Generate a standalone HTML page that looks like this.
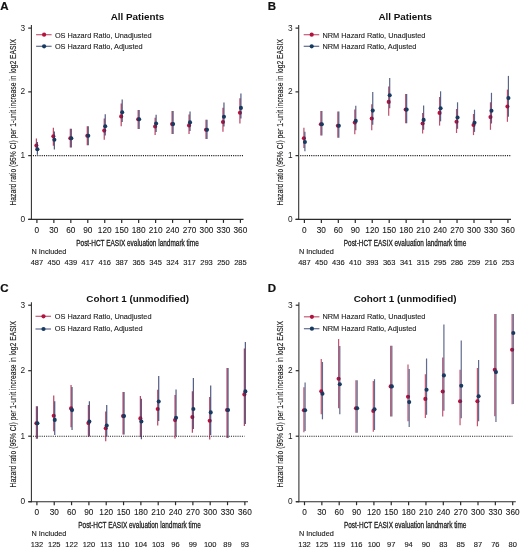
<!DOCTYPE html>
<html><head><meta charset="utf-8"><style>
html,body{margin:0;padding:0;background:#fff;width:520px;height:549px;overflow:hidden}
svg{display:block;filter:blur(0.35px)}
text{font-family:"Liberation Sans", sans-serif}
</style></head><body>
<svg width="520" height="549" viewBox="0 0 520 549">
<rect width="520" height="549" fill="#fff"/>
<text x="0.3" y="10" font-size="11.5" font-weight="bold" fill="#111" stroke="#111" stroke-width="0.2">A</text>
<text x="137.5" y="20.2" font-size="9.85" font-weight="bold" fill="#111" text-anchor="middle">All Patients</text>
<line x1="31.4" y1="25" x2="31.4" y2="219.9" stroke="#2b2b2b" stroke-width="1.05"/>
<line x1="28.4" y1="219.4" x2="243.5" y2="219.4" stroke="#2b2b2b" stroke-width="1.1"/>
<line x1="28.2" y1="219.4" x2="31.4" y2="219.4" stroke="#2b2b2b" stroke-width="1.2"/>
<text x="25.2" y="221.9" font-size="8.3" fill="#1a1a1a" text-anchor="end">0</text>
<line x1="28.2" y1="155.63" x2="31.4" y2="155.63" stroke="#2b2b2b" stroke-width="1.2"/>
<text x="25.2" y="158.13" font-size="8.3" fill="#1a1a1a" text-anchor="end">1</text>
<line x1="28.2" y1="91.87" x2="31.4" y2="91.87" stroke="#2b2b2b" stroke-width="1.2"/>
<text x="25.2" y="94.37" font-size="8.3" fill="#1a1a1a" text-anchor="end">2</text>
<line x1="28.2" y1="28.1" x2="31.4" y2="28.1" stroke="#2b2b2b" stroke-width="1.2"/>
<text x="25.2" y="30.6" font-size="8.3" fill="#1a1a1a" text-anchor="end">3</text>
<line x1="32.9" y1="155.63" x2="243.92" y2="155.63" stroke="#222" stroke-width="1.1" stroke-dasharray="1.1 1.1"/>
<line x1="36.9" y1="219.4" x2="36.9" y2="222.9" stroke="#2b2b2b" stroke-width="1.2"/>
<text x="36.9" y="232.7" font-size="8.25" fill="#1a1a1a" stroke="#1a1a1a" stroke-width="0.1" text-anchor="middle">0</text>
<text x="36.9" y="264.8" font-size="7.5" fill="#1a1a1a" stroke="#1a1a1a" stroke-width="0.12" text-anchor="middle">487</text>
<line x1="53.86" y1="219.4" x2="53.86" y2="222.9" stroke="#2b2b2b" stroke-width="1.2"/>
<text x="53.86" y="232.7" font-size="8.25" fill="#1a1a1a" stroke="#1a1a1a" stroke-width="0.1" text-anchor="middle">30</text>
<text x="53.86" y="264.8" font-size="7.5" fill="#1a1a1a" stroke="#1a1a1a" stroke-width="0.12" text-anchor="middle">450</text>
<line x1="70.82" y1="219.4" x2="70.82" y2="222.9" stroke="#2b2b2b" stroke-width="1.2"/>
<text x="70.82" y="232.7" font-size="8.25" fill="#1a1a1a" stroke="#1a1a1a" stroke-width="0.1" text-anchor="middle">60</text>
<text x="70.82" y="264.8" font-size="7.5" fill="#1a1a1a" stroke="#1a1a1a" stroke-width="0.12" text-anchor="middle">439</text>
<line x1="87.78" y1="219.4" x2="87.78" y2="222.9" stroke="#2b2b2b" stroke-width="1.2"/>
<text x="87.78" y="232.7" font-size="8.25" fill="#1a1a1a" stroke="#1a1a1a" stroke-width="0.1" text-anchor="middle">90</text>
<text x="87.78" y="264.8" font-size="7.5" fill="#1a1a1a" stroke="#1a1a1a" stroke-width="0.12" text-anchor="middle">417</text>
<line x1="104.74" y1="219.4" x2="104.74" y2="222.9" stroke="#2b2b2b" stroke-width="1.2"/>
<text x="104.74" y="232.7" font-size="8.25" fill="#1a1a1a" stroke="#1a1a1a" stroke-width="0.1" text-anchor="middle">120</text>
<text x="104.74" y="264.8" font-size="7.5" fill="#1a1a1a" stroke="#1a1a1a" stroke-width="0.12" text-anchor="middle">416</text>
<line x1="121.7" y1="219.4" x2="121.7" y2="222.9" stroke="#2b2b2b" stroke-width="1.2"/>
<text x="121.7" y="232.7" font-size="8.25" fill="#1a1a1a" stroke="#1a1a1a" stroke-width="0.1" text-anchor="middle">150</text>
<text x="121.7" y="264.8" font-size="7.5" fill="#1a1a1a" stroke="#1a1a1a" stroke-width="0.12" text-anchor="middle">387</text>
<line x1="138.66" y1="219.4" x2="138.66" y2="222.9" stroke="#2b2b2b" stroke-width="1.2"/>
<text x="138.66" y="232.7" font-size="8.25" fill="#1a1a1a" stroke="#1a1a1a" stroke-width="0.1" text-anchor="middle">180</text>
<text x="138.66" y="264.8" font-size="7.5" fill="#1a1a1a" stroke="#1a1a1a" stroke-width="0.12" text-anchor="middle">365</text>
<line x1="155.62" y1="219.4" x2="155.62" y2="222.9" stroke="#2b2b2b" stroke-width="1.2"/>
<text x="155.62" y="232.7" font-size="8.25" fill="#1a1a1a" stroke="#1a1a1a" stroke-width="0.1" text-anchor="middle">210</text>
<text x="155.62" y="264.8" font-size="7.5" fill="#1a1a1a" stroke="#1a1a1a" stroke-width="0.12" text-anchor="middle">345</text>
<line x1="172.58" y1="219.4" x2="172.58" y2="222.9" stroke="#2b2b2b" stroke-width="1.2"/>
<text x="172.58" y="232.7" font-size="8.25" fill="#1a1a1a" stroke="#1a1a1a" stroke-width="0.1" text-anchor="middle">240</text>
<text x="172.58" y="264.8" font-size="7.5" fill="#1a1a1a" stroke="#1a1a1a" stroke-width="0.12" text-anchor="middle">324</text>
<line x1="189.54" y1="219.4" x2="189.54" y2="222.9" stroke="#2b2b2b" stroke-width="1.2"/>
<text x="189.54" y="232.7" font-size="8.25" fill="#1a1a1a" stroke="#1a1a1a" stroke-width="0.1" text-anchor="middle">270</text>
<text x="189.54" y="264.8" font-size="7.5" fill="#1a1a1a" stroke="#1a1a1a" stroke-width="0.12" text-anchor="middle">317</text>
<line x1="206.5" y1="219.4" x2="206.5" y2="222.9" stroke="#2b2b2b" stroke-width="1.2"/>
<text x="206.5" y="232.7" font-size="8.25" fill="#1a1a1a" stroke="#1a1a1a" stroke-width="0.1" text-anchor="middle">300</text>
<text x="206.5" y="264.8" font-size="7.5" fill="#1a1a1a" stroke="#1a1a1a" stroke-width="0.12" text-anchor="middle">293</text>
<line x1="223.46" y1="219.4" x2="223.46" y2="222.9" stroke="#2b2b2b" stroke-width="1.2"/>
<text x="223.46" y="232.7" font-size="8.25" fill="#1a1a1a" stroke="#1a1a1a" stroke-width="0.1" text-anchor="middle">330</text>
<text x="223.46" y="264.8" font-size="7.5" fill="#1a1a1a" stroke="#1a1a1a" stroke-width="0.12" text-anchor="middle">250</text>
<line x1="240.42" y1="219.4" x2="240.42" y2="222.9" stroke="#2b2b2b" stroke-width="1.2"/>
<text x="240.42" y="232.7" font-size="8.25" fill="#1a1a1a" stroke="#1a1a1a" stroke-width="0.1" text-anchor="middle">360</text>
<text x="240.42" y="264.8" font-size="7.5" fill="#1a1a1a" stroke="#1a1a1a" stroke-width="0.12" text-anchor="middle">285</text>
<text x="137.5" y="246" font-size="9.3" fill="#1a1a1a" text-anchor="middle" textLength="122.5" lengthAdjust="spacingAndGlyphs" stroke="#1a1a1a" stroke-width="0.3">Post-HCT EASIX evaluation landmark time</text>
<text x="31.5" y="254.1" font-size="7.3" fill="#1a1a1a" stroke="#1a1a1a" stroke-width="0.12">N Included</text>
<text transform="translate(15.5,122.25) rotate(-90)" x="0" y="0" font-size="9.7" fill="#1a1a1a" text-anchor="middle" textLength="166.5" lengthAdjust="spacingAndGlyphs" stroke="#1a1a1a" stroke-width="0.15">Hazard ratio (95% CI) per 1-unit increase in log2 EASIX</text>
<line x1="36.1" y1="34.7" x2="51.6" y2="34.7" stroke="rgba(170,20,60,0.7)" stroke-width="1.2"/>
<circle cx="44.1" cy="34.7" r="2.1" fill="#b4123e"/>
<text x="54.9" y="37.5" font-size="7.35" fill="#1a1a1a" stroke="#1a1a1a" stroke-width="0.1">OS Hazard Ratio, Unadjusted</text>
<line x1="36.1" y1="46.3" x2="51.6" y2="46.3" stroke="rgba(35,50,100,0.72)" stroke-width="1.2"/>
<circle cx="44.1" cy="46.3" r="2.1" fill="#163a60"/>
<text x="54.9" y="49.1" font-size="7.35" fill="#1a1a1a" stroke="#1a1a1a" stroke-width="0.1">OS Hazard Ratio, Adjusted</text>
<line x1="36.4" y1="138.4" x2="36.4" y2="151.1" stroke="rgba(170,20,60,0.8)" stroke-width="1.2"/><circle cx="36.4" cy="145.6" r="2.05" fill="#b4123e"/>
<line x1="53.36" y1="127.8" x2="53.36" y2="145.8" stroke="rgba(170,20,60,0.8)" stroke-width="1.2"/><circle cx="53.36" cy="136.2" r="2.05" fill="#b4123e"/>
<line x1="70.32" y1="128.8" x2="70.32" y2="147.5" stroke="rgba(170,20,60,0.8)" stroke-width="1.2"/><circle cx="70.32" cy="138.2" r="2.05" fill="#b4123e"/>
<line x1="87.28" y1="126.3" x2="87.28" y2="145.2" stroke="rgba(170,20,60,0.8)" stroke-width="1.2"/><circle cx="87.28" cy="135.8" r="2.05" fill="#b4123e"/>
<line x1="104.24" y1="118.5" x2="104.24" y2="139.8" stroke="rgba(170,20,60,0.8)" stroke-width="1.2"/><circle cx="104.24" cy="130.6" r="2.05" fill="#b4123e"/>
<line x1="121.2" y1="103.6" x2="121.2" y2="126.3" stroke="rgba(170,20,60,0.8)" stroke-width="1.2"/><circle cx="121.2" cy="116.4" r="2.05" fill="#b4123e"/>
<line x1="138.16" y1="109.9" x2="138.16" y2="129" stroke="rgba(170,20,60,0.8)" stroke-width="1.2"/><circle cx="138.16" cy="119.3" r="2.05" fill="#b4123e"/>
<line x1="155.12" y1="117.8" x2="155.12" y2="134.9" stroke="rgba(170,20,60,0.8)" stroke-width="1.2"/><circle cx="155.12" cy="126.5" r="2.05" fill="#b4123e"/>
<line x1="172.08" y1="111.1" x2="172.08" y2="134.1" stroke="rgba(170,20,60,0.8)" stroke-width="1.2"/><circle cx="172.08" cy="124.1" r="2.05" fill="#b4123e"/>
<line x1="189.04" y1="114.6" x2="189.04" y2="134.1" stroke="rgba(170,20,60,0.8)" stroke-width="1.2"/><circle cx="189.04" cy="125.4" r="2.05" fill="#b4123e"/>
<line x1="206" y1="119.8" x2="206" y2="139" stroke="rgba(170,20,60,0.8)" stroke-width="1.2"/><circle cx="206" cy="129.7" r="2.05" fill="#b4123e"/>
<line x1="222.96" y1="107.8" x2="222.96" y2="131.7" stroke="rgba(170,20,60,0.8)" stroke-width="1.2"/><circle cx="222.96" cy="122" r="2.05" fill="#b4123e"/>
<line x1="239.92" y1="98.3" x2="239.92" y2="123.4" stroke="rgba(170,20,60,0.8)" stroke-width="1.2"/><circle cx="239.92" cy="112.7" r="2.05" fill="#b4123e"/>
<line x1="37.4" y1="142" x2="37.4" y2="154.7" stroke="rgba(35,50,100,0.8)" stroke-width="1.2"/><circle cx="37.4" cy="149.2" r="2.05" fill="#163a60"/>
<line x1="54.36" y1="131.4" x2="54.36" y2="149.4" stroke="rgba(35,50,100,0.8)" stroke-width="1.2"/><circle cx="54.36" cy="139.8" r="2.05" fill="#163a60"/>
<line x1="71.32" y1="128.8" x2="71.32" y2="147.5" stroke="rgba(35,50,100,0.8)" stroke-width="1.2"/><circle cx="71.32" cy="138.2" r="2.05" fill="#163a60"/>
<line x1="88.28" y1="126.3" x2="88.28" y2="145.2" stroke="rgba(35,50,100,0.8)" stroke-width="1.2"/><circle cx="88.28" cy="135.8" r="2.05" fill="#163a60"/>
<line x1="105.24" y1="114.2" x2="105.24" y2="135.5" stroke="rgba(35,50,100,0.8)" stroke-width="1.2"/><circle cx="105.24" cy="126.3" r="2.05" fill="#163a60"/>
<line x1="122.2" y1="99.4" x2="122.2" y2="122.1" stroke="rgba(35,50,100,0.8)" stroke-width="1.2"/><circle cx="122.2" cy="112.2" r="2.05" fill="#163a60"/>
<line x1="139.16" y1="109.9" x2="139.16" y2="129" stroke="rgba(35,50,100,0.8)" stroke-width="1.2"/><circle cx="139.16" cy="119.3" r="2.05" fill="#163a60"/>
<line x1="156.12" y1="114.8" x2="156.12" y2="131.9" stroke="rgba(35,50,100,0.8)" stroke-width="1.2"/><circle cx="156.12" cy="123.5" r="2.05" fill="#163a60"/>
<line x1="173.08" y1="111.1" x2="173.08" y2="134.1" stroke="rgba(35,50,100,0.8)" stroke-width="1.2"/><circle cx="173.08" cy="124.1" r="2.05" fill="#163a60"/>
<line x1="190.04" y1="111.6" x2="190.04" y2="131.1" stroke="rgba(35,50,100,0.8)" stroke-width="1.2"/><circle cx="190.04" cy="122.4" r="2.05" fill="#163a60"/>
<line x1="207" y1="119.8" x2="207" y2="139" stroke="rgba(35,50,100,0.8)" stroke-width="1.2"/><circle cx="207" cy="129.7" r="2.05" fill="#163a60"/>
<line x1="223.96" y1="102.6" x2="223.96" y2="126.5" stroke="rgba(35,50,100,0.8)" stroke-width="1.2"/><circle cx="223.96" cy="116.8" r="2.05" fill="#163a60"/>
<line x1="240.92" y1="93.5" x2="240.92" y2="118.6" stroke="rgba(35,50,100,0.8)" stroke-width="1.2"/><circle cx="240.92" cy="107.9" r="2.05" fill="#163a60"/>
<text x="267.7" y="10" font-size="11.5" font-weight="bold" fill="#111" stroke="#111" stroke-width="0.2">B</text>
<text x="405.3" y="20.2" font-size="9.85" font-weight="bold" fill="#111" text-anchor="middle">All Patients</text>
<line x1="298.7" y1="25" x2="298.7" y2="219.9" stroke="#2b2b2b" stroke-width="1.05"/>
<line x1="295.7" y1="219.4" x2="511" y2="219.4" stroke="#2b2b2b" stroke-width="1.1"/>
<line x1="295.5" y1="219.4" x2="298.7" y2="219.4" stroke="#2b2b2b" stroke-width="1.2"/>
<text x="292.5" y="221.9" font-size="8.3" fill="#1a1a1a" text-anchor="end">0</text>
<line x1="295.5" y1="155.63" x2="298.7" y2="155.63" stroke="#2b2b2b" stroke-width="1.2"/>
<text x="292.5" y="158.13" font-size="8.3" fill="#1a1a1a" text-anchor="end">1</text>
<line x1="295.5" y1="91.87" x2="298.7" y2="91.87" stroke="#2b2b2b" stroke-width="1.2"/>
<text x="292.5" y="94.37" font-size="8.3" fill="#1a1a1a" text-anchor="end">2</text>
<line x1="295.5" y1="28.1" x2="298.7" y2="28.1" stroke="#2b2b2b" stroke-width="1.2"/>
<text x="292.5" y="30.6" font-size="8.3" fill="#1a1a1a" text-anchor="end">3</text>
<line x1="300.2" y1="155.63" x2="511.42" y2="155.63" stroke="#222" stroke-width="1.1" stroke-dasharray="1.1 1.1"/>
<line x1="304.4" y1="219.4" x2="304.4" y2="222.9" stroke="#2b2b2b" stroke-width="1.2"/>
<text x="304.4" y="232.7" font-size="8.25" fill="#1a1a1a" stroke="#1a1a1a" stroke-width="0.1" text-anchor="middle">0</text>
<text x="304.4" y="264.8" font-size="7.5" fill="#1a1a1a" stroke="#1a1a1a" stroke-width="0.12" text-anchor="middle">487</text>
<line x1="321.36" y1="219.4" x2="321.36" y2="222.9" stroke="#2b2b2b" stroke-width="1.2"/>
<text x="321.36" y="232.7" font-size="8.25" fill="#1a1a1a" stroke="#1a1a1a" stroke-width="0.1" text-anchor="middle">30</text>
<text x="321.36" y="264.8" font-size="7.5" fill="#1a1a1a" stroke="#1a1a1a" stroke-width="0.12" text-anchor="middle">450</text>
<line x1="338.32" y1="219.4" x2="338.32" y2="222.9" stroke="#2b2b2b" stroke-width="1.2"/>
<text x="338.32" y="232.7" font-size="8.25" fill="#1a1a1a" stroke="#1a1a1a" stroke-width="0.1" text-anchor="middle">60</text>
<text x="338.32" y="264.8" font-size="7.5" fill="#1a1a1a" stroke="#1a1a1a" stroke-width="0.12" text-anchor="middle">436</text>
<line x1="355.28" y1="219.4" x2="355.28" y2="222.9" stroke="#2b2b2b" stroke-width="1.2"/>
<text x="355.28" y="232.7" font-size="8.25" fill="#1a1a1a" stroke="#1a1a1a" stroke-width="0.1" text-anchor="middle">90</text>
<text x="355.28" y="264.8" font-size="7.5" fill="#1a1a1a" stroke="#1a1a1a" stroke-width="0.12" text-anchor="middle">410</text>
<line x1="372.24" y1="219.4" x2="372.24" y2="222.9" stroke="#2b2b2b" stroke-width="1.2"/>
<text x="372.24" y="232.7" font-size="8.25" fill="#1a1a1a" stroke="#1a1a1a" stroke-width="0.1" text-anchor="middle">120</text>
<text x="372.24" y="264.8" font-size="7.5" fill="#1a1a1a" stroke="#1a1a1a" stroke-width="0.12" text-anchor="middle">393</text>
<line x1="389.2" y1="219.4" x2="389.2" y2="222.9" stroke="#2b2b2b" stroke-width="1.2"/>
<text x="389.2" y="232.7" font-size="8.25" fill="#1a1a1a" stroke="#1a1a1a" stroke-width="0.1" text-anchor="middle">150</text>
<text x="389.2" y="264.8" font-size="7.5" fill="#1a1a1a" stroke="#1a1a1a" stroke-width="0.12" text-anchor="middle">363</text>
<line x1="406.16" y1="219.4" x2="406.16" y2="222.9" stroke="#2b2b2b" stroke-width="1.2"/>
<text x="406.16" y="232.7" font-size="8.25" fill="#1a1a1a" stroke="#1a1a1a" stroke-width="0.1" text-anchor="middle">180</text>
<text x="406.16" y="264.8" font-size="7.5" fill="#1a1a1a" stroke="#1a1a1a" stroke-width="0.12" text-anchor="middle">341</text>
<line x1="423.12" y1="219.4" x2="423.12" y2="222.9" stroke="#2b2b2b" stroke-width="1.2"/>
<text x="423.12" y="232.7" font-size="8.25" fill="#1a1a1a" stroke="#1a1a1a" stroke-width="0.1" text-anchor="middle">210</text>
<text x="423.12" y="264.8" font-size="7.5" fill="#1a1a1a" stroke="#1a1a1a" stroke-width="0.12" text-anchor="middle">315</text>
<line x1="440.08" y1="219.4" x2="440.08" y2="222.9" stroke="#2b2b2b" stroke-width="1.2"/>
<text x="440.08" y="232.7" font-size="8.25" fill="#1a1a1a" stroke="#1a1a1a" stroke-width="0.1" text-anchor="middle">240</text>
<text x="440.08" y="264.8" font-size="7.5" fill="#1a1a1a" stroke="#1a1a1a" stroke-width="0.12" text-anchor="middle">295</text>
<line x1="457.04" y1="219.4" x2="457.04" y2="222.9" stroke="#2b2b2b" stroke-width="1.2"/>
<text x="457.04" y="232.7" font-size="8.25" fill="#1a1a1a" stroke="#1a1a1a" stroke-width="0.1" text-anchor="middle">270</text>
<text x="457.04" y="264.8" font-size="7.5" fill="#1a1a1a" stroke="#1a1a1a" stroke-width="0.12" text-anchor="middle">286</text>
<line x1="474" y1="219.4" x2="474" y2="222.9" stroke="#2b2b2b" stroke-width="1.2"/>
<text x="474" y="232.7" font-size="8.25" fill="#1a1a1a" stroke="#1a1a1a" stroke-width="0.1" text-anchor="middle">300</text>
<text x="474" y="264.8" font-size="7.5" fill="#1a1a1a" stroke="#1a1a1a" stroke-width="0.12" text-anchor="middle">259</text>
<line x1="490.96" y1="219.4" x2="490.96" y2="222.9" stroke="#2b2b2b" stroke-width="1.2"/>
<text x="490.96" y="232.7" font-size="8.25" fill="#1a1a1a" stroke="#1a1a1a" stroke-width="0.1" text-anchor="middle">330</text>
<text x="490.96" y="264.8" font-size="7.5" fill="#1a1a1a" stroke="#1a1a1a" stroke-width="0.12" text-anchor="middle">216</text>
<line x1="507.92" y1="219.4" x2="507.92" y2="222.9" stroke="#2b2b2b" stroke-width="1.2"/>
<text x="507.92" y="232.7" font-size="8.25" fill="#1a1a1a" stroke="#1a1a1a" stroke-width="0.1" text-anchor="middle">360</text>
<text x="507.92" y="264.8" font-size="7.5" fill="#1a1a1a" stroke="#1a1a1a" stroke-width="0.12" text-anchor="middle">253</text>
<text x="405" y="246" font-size="9.3" fill="#1a1a1a" text-anchor="middle" textLength="122.5" lengthAdjust="spacingAndGlyphs" stroke="#1a1a1a" stroke-width="0.3">Post-HCT EASIX evaluation landmark time</text>
<text x="298.9" y="254.1" font-size="7.3" fill="#1a1a1a" stroke="#1a1a1a" stroke-width="0.12">N Included</text>
<text transform="translate(282.9,122.25) rotate(-90)" x="0" y="0" font-size="9.7" fill="#1a1a1a" text-anchor="middle" textLength="166.5" lengthAdjust="spacingAndGlyphs" stroke="#1a1a1a" stroke-width="0.15">Hazard ratio (95% CI) per 1-unit increase in log2 EASIX</text>
<line x1="303.7" y1="34.7" x2="319.2" y2="34.7" stroke="rgba(170,20,60,0.7)" stroke-width="1.2"/>
<circle cx="311.7" cy="34.7" r="2.1" fill="#b4123e"/>
<text x="322.5" y="37.5" font-size="7.35" fill="#1a1a1a" stroke="#1a1a1a" stroke-width="0.1">NRM Hazard Ratio, Unadjusted</text>
<line x1="303.7" y1="46.3" x2="319.2" y2="46.3" stroke="rgba(35,50,100,0.72)" stroke-width="1.2"/>
<circle cx="311.7" cy="46.3" r="2.1" fill="#163a60"/>
<text x="322.5" y="49.1" font-size="7.35" fill="#1a1a1a" stroke="#1a1a1a" stroke-width="0.1">NRM Hazard Ratio, Adjusted</text>
<line x1="303.9" y1="127.8" x2="303.9" y2="148" stroke="rgba(170,20,60,0.75)" stroke-width="1.2"/><circle cx="303.9" cy="138.2" r="2.05" fill="#b4123e"/>
<line x1="320.86" y1="110.9" x2="320.86" y2="135.5" stroke="rgba(170,20,60,0.75)" stroke-width="1.2"/><circle cx="320.86" cy="124.2" r="2.05" fill="#b4123e"/>
<line x1="337.82" y1="111.5" x2="337.82" y2="137.7" stroke="rgba(170,20,60,0.75)" stroke-width="1.2"/><circle cx="337.82" cy="125.7" r="2.05" fill="#b4123e"/>
<line x1="354.78" y1="109.6" x2="354.78" y2="134.3" stroke="rgba(170,20,60,0.75)" stroke-width="1.2"/><circle cx="354.78" cy="122.6" r="2.05" fill="#b4123e"/>
<line x1="371.74" y1="104.2" x2="371.74" y2="130.2" stroke="rgba(170,20,60,0.75)" stroke-width="1.2"/><circle cx="371.74" cy="118.5" r="2.05" fill="#b4123e"/>
<line x1="388.7" y1="86.4" x2="388.7" y2="115.8" stroke="rgba(170,20,60,0.75)" stroke-width="1.2"/><circle cx="388.7" cy="101.9" r="2.05" fill="#b4123e"/>
<line x1="405.66" y1="93.9" x2="405.66" y2="123.3" stroke="rgba(170,20,60,0.75)" stroke-width="1.2"/><circle cx="405.66" cy="109.6" r="2.05" fill="#b4123e"/>
<line x1="422.62" y1="112.9" x2="422.62" y2="133.6" stroke="rgba(170,20,60,0.75)" stroke-width="1.2"/><circle cx="422.62" cy="123.5" r="2.05" fill="#b4123e"/>
<line x1="439.58" y1="97" x2="439.58" y2="125.6" stroke="rgba(170,20,60,0.75)" stroke-width="1.2"/><circle cx="439.58" cy="112.9" r="2.05" fill="#b4123e"/>
<line x1="456.54" y1="109" x2="456.54" y2="133" stroke="rgba(170,20,60,0.75)" stroke-width="1.2"/><circle cx="456.54" cy="121.8" r="2.05" fill="#b4123e"/>
<line x1="473.5" y1="114" x2="473.5" y2="135.1" stroke="rgba(170,20,60,0.75)" stroke-width="1.2"/><circle cx="473.5" cy="125" r="2.05" fill="#b4123e"/>
<line x1="490.46" y1="102.3" x2="490.46" y2="129.8" stroke="rgba(170,20,60,0.75)" stroke-width="1.2"/><circle cx="490.46" cy="117.1" r="2.05" fill="#b4123e"/>
<line x1="507.42" y1="89.6" x2="507.42" y2="121.8" stroke="rgba(170,20,60,0.75)" stroke-width="1.2"/><circle cx="507.42" cy="106.5" r="2.05" fill="#b4123e"/>
<line x1="304.9" y1="131.7" x2="304.9" y2="151.3" stroke="rgba(35,50,100,0.75)" stroke-width="1.2"/><circle cx="304.9" cy="142" r="2.05" fill="#163a60"/>
<line x1="321.86" y1="110.9" x2="321.86" y2="135.5" stroke="rgba(35,50,100,0.75)" stroke-width="1.2"/><circle cx="321.86" cy="124.2" r="2.05" fill="#163a60"/>
<line x1="338.82" y1="111.5" x2="338.82" y2="137.7" stroke="rgba(35,50,100,0.75)" stroke-width="1.2"/><circle cx="338.82" cy="125.7" r="2.05" fill="#163a60"/>
<line x1="355.78" y1="105.8" x2="355.78" y2="130.2" stroke="rgba(35,50,100,0.75)" stroke-width="1.2"/><circle cx="355.78" cy="120.9" r="2.05" fill="#163a60"/>
<line x1="372.74" y1="91.9" x2="372.74" y2="124.7" stroke="rgba(35,50,100,0.75)" stroke-width="1.2"/><circle cx="372.74" cy="110.6" r="2.05" fill="#163a60"/>
<line x1="389.7" y1="77.9" x2="389.7" y2="108.3" stroke="rgba(35,50,100,0.75)" stroke-width="1.2"/><circle cx="389.7" cy="95.3" r="2.05" fill="#163a60"/>
<line x1="406.66" y1="93.9" x2="406.66" y2="123.3" stroke="rgba(35,50,100,0.75)" stroke-width="1.2"/><circle cx="406.66" cy="109.6" r="2.05" fill="#163a60"/>
<line x1="423.62" y1="105.5" x2="423.62" y2="129.8" stroke="rgba(35,50,100,0.75)" stroke-width="1.2"/><circle cx="423.62" cy="119.9" r="2.05" fill="#163a60"/>
<line x1="440.58" y1="91.3" x2="440.58" y2="121.3" stroke="rgba(35,50,100,0.75)" stroke-width="1.2"/><circle cx="440.58" cy="108.2" r="2.05" fill="#163a60"/>
<line x1="457.54" y1="102.3" x2="457.54" y2="128.8" stroke="rgba(35,50,100,0.75)" stroke-width="1.2"/><circle cx="457.54" cy="117.5" r="2.05" fill="#163a60"/>
<line x1="474.5" y1="109.7" x2="474.5" y2="131.9" stroke="rgba(35,50,100,0.75)" stroke-width="1.2"/><circle cx="474.5" cy="122.8" r="2.05" fill="#163a60"/>
<line x1="491.46" y1="92.8" x2="491.46" y2="123.5" stroke="rgba(35,50,100,0.75)" stroke-width="1.2"/><circle cx="491.46" cy="110.8" r="2.05" fill="#163a60"/>
<line x1="508.42" y1="75.9" x2="508.42" y2="116.7" stroke="rgba(35,50,100,0.75)" stroke-width="1.2"/><circle cx="508.42" cy="98.1" r="2.05" fill="#163a60"/>
<text x="0.3" y="292.3" font-size="11.5" font-weight="bold" fill="#111" stroke="#111" stroke-width="0.2">C</text>
<text x="137.7" y="302.2" font-size="9.85" font-weight="bold" fill="#111" text-anchor="middle">Cohort 1 (unmodified)</text>
<line x1="31.4" y1="302.3" x2="31.4" y2="502.2" stroke="#2b2b2b" stroke-width="1.05"/>
<line x1="28.4" y1="501.7" x2="248" y2="501.7" stroke="#2b2b2b" stroke-width="1.1"/>
<line x1="28.2" y1="501.7" x2="31.4" y2="501.7" stroke="#2b2b2b" stroke-width="1.2"/>
<text x="25.2" y="504.2" font-size="8.3" fill="#1a1a1a" text-anchor="end">0</text>
<line x1="28.2" y1="436.2" x2="31.4" y2="436.2" stroke="#2b2b2b" stroke-width="1.2"/>
<text x="25.2" y="438.7" font-size="8.3" fill="#1a1a1a" text-anchor="end">1</text>
<line x1="28.2" y1="370.7" x2="31.4" y2="370.7" stroke="#2b2b2b" stroke-width="1.2"/>
<text x="25.2" y="373.2" font-size="8.3" fill="#1a1a1a" text-anchor="end">2</text>
<line x1="28.2" y1="305.2" x2="31.4" y2="305.2" stroke="#2b2b2b" stroke-width="1.2"/>
<text x="25.2" y="307.7" font-size="8.3" fill="#1a1a1a" text-anchor="end">3</text>
<line x1="32.9" y1="436.2" x2="244.56" y2="436.2" stroke="#222" stroke-width="1.1" stroke-dasharray="1.1 1.1"/>
<line x1="36.9" y1="501.7" x2="36.9" y2="505.2" stroke="#2b2b2b" stroke-width="1.2"/>
<text x="36.9" y="514.6" font-size="8.25" fill="#1a1a1a" stroke="#1a1a1a" stroke-width="0.1" text-anchor="middle">0</text>
<text x="36.9" y="546.6" font-size="7.5" fill="#1a1a1a" stroke="#1a1a1a" stroke-width="0.12" text-anchor="middle">132</text>
<line x1="54.23" y1="501.7" x2="54.23" y2="505.2" stroke="#2b2b2b" stroke-width="1.2"/>
<text x="54.23" y="514.6" font-size="8.25" fill="#1a1a1a" stroke="#1a1a1a" stroke-width="0.1" text-anchor="middle">30</text>
<text x="54.23" y="546.6" font-size="7.5" fill="#1a1a1a" stroke="#1a1a1a" stroke-width="0.12" text-anchor="middle">125</text>
<line x1="71.56" y1="501.7" x2="71.56" y2="505.2" stroke="#2b2b2b" stroke-width="1.2"/>
<text x="71.56" y="514.6" font-size="8.25" fill="#1a1a1a" stroke="#1a1a1a" stroke-width="0.1" text-anchor="middle">60</text>
<text x="71.56" y="546.6" font-size="7.5" fill="#1a1a1a" stroke="#1a1a1a" stroke-width="0.12" text-anchor="middle">122</text>
<line x1="88.89" y1="501.7" x2="88.89" y2="505.2" stroke="#2b2b2b" stroke-width="1.2"/>
<text x="88.89" y="514.6" font-size="8.25" fill="#1a1a1a" stroke="#1a1a1a" stroke-width="0.1" text-anchor="middle">90</text>
<text x="88.89" y="546.6" font-size="7.5" fill="#1a1a1a" stroke="#1a1a1a" stroke-width="0.12" text-anchor="middle">120</text>
<line x1="106.22" y1="501.7" x2="106.22" y2="505.2" stroke="#2b2b2b" stroke-width="1.2"/>
<text x="106.22" y="514.6" font-size="8.25" fill="#1a1a1a" stroke="#1a1a1a" stroke-width="0.1" text-anchor="middle">120</text>
<text x="106.22" y="546.6" font-size="7.5" fill="#1a1a1a" stroke="#1a1a1a" stroke-width="0.12" text-anchor="middle">113</text>
<line x1="123.55" y1="501.7" x2="123.55" y2="505.2" stroke="#2b2b2b" stroke-width="1.2"/>
<text x="123.55" y="514.6" font-size="8.25" fill="#1a1a1a" stroke="#1a1a1a" stroke-width="0.1" text-anchor="middle">150</text>
<text x="123.55" y="546.6" font-size="7.5" fill="#1a1a1a" stroke="#1a1a1a" stroke-width="0.12" text-anchor="middle">110</text>
<line x1="140.88" y1="501.7" x2="140.88" y2="505.2" stroke="#2b2b2b" stroke-width="1.2"/>
<text x="140.88" y="514.6" font-size="8.25" fill="#1a1a1a" stroke="#1a1a1a" stroke-width="0.1" text-anchor="middle">180</text>
<text x="140.88" y="546.6" font-size="7.5" fill="#1a1a1a" stroke="#1a1a1a" stroke-width="0.12" text-anchor="middle">104</text>
<line x1="158.21" y1="501.7" x2="158.21" y2="505.2" stroke="#2b2b2b" stroke-width="1.2"/>
<text x="158.21" y="514.6" font-size="8.25" fill="#1a1a1a" stroke="#1a1a1a" stroke-width="0.1" text-anchor="middle">210</text>
<text x="158.21" y="546.6" font-size="7.5" fill="#1a1a1a" stroke="#1a1a1a" stroke-width="0.12" text-anchor="middle">103</text>
<line x1="175.54" y1="501.7" x2="175.54" y2="505.2" stroke="#2b2b2b" stroke-width="1.2"/>
<text x="175.54" y="514.6" font-size="8.25" fill="#1a1a1a" stroke="#1a1a1a" stroke-width="0.1" text-anchor="middle">240</text>
<text x="175.54" y="546.6" font-size="7.5" fill="#1a1a1a" stroke="#1a1a1a" stroke-width="0.12" text-anchor="middle">96</text>
<line x1="192.87" y1="501.7" x2="192.87" y2="505.2" stroke="#2b2b2b" stroke-width="1.2"/>
<text x="192.87" y="514.6" font-size="8.25" fill="#1a1a1a" stroke="#1a1a1a" stroke-width="0.1" text-anchor="middle">270</text>
<text x="192.87" y="546.6" font-size="7.5" fill="#1a1a1a" stroke="#1a1a1a" stroke-width="0.12" text-anchor="middle">99</text>
<line x1="210.2" y1="501.7" x2="210.2" y2="505.2" stroke="#2b2b2b" stroke-width="1.2"/>
<text x="210.2" y="514.6" font-size="8.25" fill="#1a1a1a" stroke="#1a1a1a" stroke-width="0.1" text-anchor="middle">300</text>
<text x="210.2" y="546.6" font-size="7.5" fill="#1a1a1a" stroke="#1a1a1a" stroke-width="0.12" text-anchor="middle">100</text>
<line x1="227.53" y1="501.7" x2="227.53" y2="505.2" stroke="#2b2b2b" stroke-width="1.2"/>
<text x="227.53" y="514.6" font-size="8.25" fill="#1a1a1a" stroke="#1a1a1a" stroke-width="0.1" text-anchor="middle">330</text>
<text x="227.53" y="546.6" font-size="7.5" fill="#1a1a1a" stroke="#1a1a1a" stroke-width="0.12" text-anchor="middle">89</text>
<line x1="244.86" y1="501.7" x2="244.86" y2="505.2" stroke="#2b2b2b" stroke-width="1.2"/>
<text x="244.86" y="514.6" font-size="8.25" fill="#1a1a1a" stroke="#1a1a1a" stroke-width="0.1" text-anchor="middle">360</text>
<text x="244.86" y="546.6" font-size="7.5" fill="#1a1a1a" stroke="#1a1a1a" stroke-width="0.12" text-anchor="middle">93</text>
<text x="139.5" y="527.7" font-size="9.3" fill="#1a1a1a" text-anchor="middle" textLength="122.5" lengthAdjust="spacingAndGlyphs" stroke="#1a1a1a" stroke-width="0.3">Post-HCT EASIX evaluation landmark time</text>
<text x="31.5" y="535.8" font-size="7.3" fill="#1a1a1a" stroke="#1a1a1a" stroke-width="0.12">N Included</text>
<text transform="translate(15.5,404.2) rotate(-90)" x="0" y="0" font-size="9.7" fill="#1a1a1a" text-anchor="middle" textLength="166.5" lengthAdjust="spacingAndGlyphs" stroke="#1a1a1a" stroke-width="0.15">Hazard ratio (95% CI) per 1-unit increase in log2 EASIX</text>
<line x1="35.5" y1="316.3" x2="51" y2="316.3" stroke="rgba(170,20,60,0.7)" stroke-width="1.2"/>
<circle cx="43.5" cy="316.3" r="2.1" fill="#b4123e"/>
<text x="54.8" y="319.2" font-size="7.35" fill="#1a1a1a" stroke="#1a1a1a" stroke-width="0.1">OS Hazard Ratio, Unadjusted</text>
<line x1="35.5" y1="329" x2="51" y2="329" stroke="rgba(35,50,100,0.72)" stroke-width="1.2"/>
<circle cx="43.5" cy="329" r="2.1" fill="#163a60"/>
<text x="54.8" y="331.2" font-size="7.35" fill="#1a1a1a" stroke="#1a1a1a" stroke-width="0.1">OS Hazard Ratio, Adjusted</text>
<line x1="36.4" y1="406.3" x2="36.4" y2="438.8" stroke="rgba(170,20,60,0.8)" stroke-width="1.2"/><circle cx="36.4" cy="423.2" r="2.05" fill="#b4123e"/>
<line x1="53.73" y1="395.4" x2="53.73" y2="431.2" stroke="rgba(170,20,60,0.8)" stroke-width="1.2"/><circle cx="53.73" cy="415.8" r="2.05" fill="#b4123e"/>
<line x1="71.06" y1="385" x2="71.06" y2="427.3" stroke="rgba(170,20,60,0.8)" stroke-width="1.2"/><circle cx="71.06" cy="408.4" r="2.05" fill="#b4123e"/>
<line x1="88.39" y1="405" x2="88.39" y2="437" stroke="rgba(170,20,60,0.8)" stroke-width="1.2"/><circle cx="88.39" cy="423.1" r="2.05" fill="#b4123e"/>
<line x1="105.72" y1="411.6" x2="105.72" y2="441.2" stroke="rgba(170,20,60,0.8)" stroke-width="1.2"/><circle cx="105.72" cy="428.2" r="2.05" fill="#b4123e"/>
<line x1="123.05" y1="392.1" x2="123.05" y2="434.5" stroke="rgba(170,20,60,0.8)" stroke-width="1.2"/><circle cx="123.05" cy="416.1" r="2.05" fill="#b4123e"/>
<line x1="140.38" y1="395.9" x2="140.38" y2="437" stroke="rgba(170,20,60,0.8)" stroke-width="1.2"/><circle cx="140.38" cy="418.4" r="2.05" fill="#b4123e"/>
<line x1="157.71" y1="389.8" x2="157.71" y2="425.5" stroke="rgba(170,20,60,0.8)" stroke-width="1.2"/><circle cx="157.71" cy="409" r="2.05" fill="#b4123e"/>
<line x1="175.04" y1="394.9" x2="175.04" y2="438.6" stroke="rgba(170,20,60,0.8)" stroke-width="1.2"/><circle cx="175.04" cy="420.1" r="2.05" fill="#b4123e"/>
<line x1="192.37" y1="391.3" x2="192.37" y2="432.8" stroke="rgba(170,20,60,0.8)" stroke-width="1.2"/><circle cx="192.37" cy="417.1" r="2.05" fill="#b4123e"/>
<line x1="209.7" y1="397.1" x2="209.7" y2="439.4" stroke="rgba(170,20,60,0.8)" stroke-width="1.2"/><circle cx="209.7" cy="420.7" r="2.05" fill="#b4123e"/>
<line x1="227.03" y1="368" x2="227.03" y2="438" stroke="rgba(170,20,60,0.8)" stroke-width="1.2"/><circle cx="227.03" cy="410" r="2.05" fill="#b4123e"/>
<line x1="244.36" y1="348.5" x2="244.36" y2="426" stroke="rgba(170,20,60,0.8)" stroke-width="1.2"/><circle cx="244.36" cy="394.4" r="2.05" fill="#b4123e"/>
<line x1="37.4" y1="406.3" x2="37.4" y2="438.8" stroke="rgba(35,50,100,0.8)" stroke-width="1.2"/><circle cx="37.4" cy="423.2" r="2.05" fill="#163a60"/>
<line x1="54.73" y1="401.2" x2="54.73" y2="435" stroke="rgba(35,50,100,0.8)" stroke-width="1.2"/><circle cx="54.73" cy="419.9" r="2.05" fill="#163a60"/>
<line x1="72.06" y1="387.1" x2="72.06" y2="429.9" stroke="rgba(35,50,100,0.8)" stroke-width="1.2"/><circle cx="72.06" cy="410.1" r="2.05" fill="#163a60"/>
<line x1="89.39" y1="401.3" x2="89.39" y2="436.5" stroke="rgba(35,50,100,0.8)" stroke-width="1.2"/><circle cx="89.39" cy="421.5" r="2.05" fill="#163a60"/>
<line x1="106.72" y1="404.9" x2="106.72" y2="436.5" stroke="rgba(35,50,100,0.8)" stroke-width="1.2"/><circle cx="106.72" cy="425.5" r="2.05" fill="#163a60"/>
<line x1="124.05" y1="392.1" x2="124.05" y2="434.5" stroke="rgba(35,50,100,0.8)" stroke-width="1.2"/><circle cx="124.05" cy="416.1" r="2.05" fill="#163a60"/>
<line x1="141.38" y1="398.8" x2="141.38" y2="439.2" stroke="rgba(35,50,100,0.8)" stroke-width="1.2"/><circle cx="141.38" cy="421.5" r="2.05" fill="#163a60"/>
<line x1="158.71" y1="375.9" x2="158.71" y2="421.1" stroke="rgba(35,50,100,0.8)" stroke-width="1.2"/><circle cx="158.71" cy="401.5" r="2.05" fill="#163a60"/>
<line x1="176.04" y1="389.5" x2="176.04" y2="436" stroke="rgba(35,50,100,0.8)" stroke-width="1.2"/><circle cx="176.04" cy="417.8" r="2.05" fill="#163a60"/>
<line x1="193.37" y1="378.1" x2="193.37" y2="429" stroke="rgba(35,50,100,0.8)" stroke-width="1.2"/><circle cx="193.37" cy="409" r="2.05" fill="#163a60"/>
<line x1="210.7" y1="385.4" x2="210.7" y2="435" stroke="rgba(35,50,100,0.8)" stroke-width="1.2"/><circle cx="210.7" cy="412.4" r="2.05" fill="#163a60"/>
<line x1="228.03" y1="368" x2="228.03" y2="438" stroke="rgba(35,50,100,0.8)" stroke-width="1.2"/><circle cx="228.03" cy="410" r="2.05" fill="#163a60"/>
<line x1="245.36" y1="342" x2="245.36" y2="424" stroke="rgba(35,50,100,0.8)" stroke-width="1.2"/><circle cx="245.36" cy="391.4" r="2.05" fill="#163a60"/>
<text x="267.7" y="292.3" font-size="11.5" font-weight="bold" fill="#111" stroke="#111" stroke-width="0.2">D</text>
<text x="405.1" y="302.2" font-size="9.85" font-weight="bold" fill="#111" text-anchor="middle">Cohort 1 (unmodified)</text>
<line x1="298.9" y1="302.3" x2="298.9" y2="502.2" stroke="#2b2b2b" stroke-width="1.05"/>
<line x1="295.9" y1="501.7" x2="515.8" y2="501.7" stroke="#2b2b2b" stroke-width="1.1"/>
<line x1="295.7" y1="501.7" x2="298.9" y2="501.7" stroke="#2b2b2b" stroke-width="1.2"/>
<text x="292.7" y="504.2" font-size="8.3" fill="#1a1a1a" text-anchor="end">0</text>
<line x1="295.7" y1="436.2" x2="298.9" y2="436.2" stroke="#2b2b2b" stroke-width="1.2"/>
<text x="292.7" y="438.7" font-size="8.3" fill="#1a1a1a" text-anchor="end">1</text>
<line x1="295.7" y1="370.7" x2="298.9" y2="370.7" stroke="#2b2b2b" stroke-width="1.2"/>
<text x="292.7" y="373.2" font-size="8.3" fill="#1a1a1a" text-anchor="end">2</text>
<line x1="295.7" y1="305.2" x2="298.9" y2="305.2" stroke="#2b2b2b" stroke-width="1.2"/>
<text x="292.7" y="307.7" font-size="8.3" fill="#1a1a1a" text-anchor="end">3</text>
<line x1="300.4" y1="436.2" x2="512.4" y2="436.2" stroke="#222" stroke-width="1.1" stroke-dasharray="1.1 1.1"/>
<line x1="304.5" y1="501.7" x2="304.5" y2="505.2" stroke="#2b2b2b" stroke-width="1.2"/>
<text x="304.5" y="514.6" font-size="8.25" fill="#1a1a1a" stroke="#1a1a1a" stroke-width="0.1" text-anchor="middle">0</text>
<text x="304.5" y="546.6" font-size="7.5" fill="#1a1a1a" stroke="#1a1a1a" stroke-width="0.12" text-anchor="middle">132</text>
<line x1="321.85" y1="501.7" x2="321.85" y2="505.2" stroke="#2b2b2b" stroke-width="1.2"/>
<text x="321.85" y="514.6" font-size="8.25" fill="#1a1a1a" stroke="#1a1a1a" stroke-width="0.1" text-anchor="middle">30</text>
<text x="321.85" y="546.6" font-size="7.5" fill="#1a1a1a" stroke="#1a1a1a" stroke-width="0.12" text-anchor="middle">125</text>
<line x1="339.2" y1="501.7" x2="339.2" y2="505.2" stroke="#2b2b2b" stroke-width="1.2"/>
<text x="339.2" y="514.6" font-size="8.25" fill="#1a1a1a" stroke="#1a1a1a" stroke-width="0.1" text-anchor="middle">60</text>
<text x="339.2" y="546.6" font-size="7.5" fill="#1a1a1a" stroke="#1a1a1a" stroke-width="0.12" text-anchor="middle">119</text>
<line x1="356.55" y1="501.7" x2="356.55" y2="505.2" stroke="#2b2b2b" stroke-width="1.2"/>
<text x="356.55" y="514.6" font-size="8.25" fill="#1a1a1a" stroke="#1a1a1a" stroke-width="0.1" text-anchor="middle">90</text>
<text x="356.55" y="546.6" font-size="7.5" fill="#1a1a1a" stroke="#1a1a1a" stroke-width="0.12" text-anchor="middle">116</text>
<line x1="373.9" y1="501.7" x2="373.9" y2="505.2" stroke="#2b2b2b" stroke-width="1.2"/>
<text x="373.9" y="514.6" font-size="8.25" fill="#1a1a1a" stroke="#1a1a1a" stroke-width="0.1" text-anchor="middle">120</text>
<text x="373.9" y="546.6" font-size="7.5" fill="#1a1a1a" stroke="#1a1a1a" stroke-width="0.12" text-anchor="middle">100</text>
<line x1="391.25" y1="501.7" x2="391.25" y2="505.2" stroke="#2b2b2b" stroke-width="1.2"/>
<text x="391.25" y="514.6" font-size="8.25" fill="#1a1a1a" stroke="#1a1a1a" stroke-width="0.1" text-anchor="middle">150</text>
<text x="391.25" y="546.6" font-size="7.5" fill="#1a1a1a" stroke="#1a1a1a" stroke-width="0.12" text-anchor="middle">97</text>
<line x1="408.6" y1="501.7" x2="408.6" y2="505.2" stroke="#2b2b2b" stroke-width="1.2"/>
<text x="408.6" y="514.6" font-size="8.25" fill="#1a1a1a" stroke="#1a1a1a" stroke-width="0.1" text-anchor="middle">180</text>
<text x="408.6" y="546.6" font-size="7.5" fill="#1a1a1a" stroke="#1a1a1a" stroke-width="0.12" text-anchor="middle">94</text>
<line x1="425.95" y1="501.7" x2="425.95" y2="505.2" stroke="#2b2b2b" stroke-width="1.2"/>
<text x="425.95" y="514.6" font-size="8.25" fill="#1a1a1a" stroke="#1a1a1a" stroke-width="0.1" text-anchor="middle">210</text>
<text x="425.95" y="546.6" font-size="7.5" fill="#1a1a1a" stroke="#1a1a1a" stroke-width="0.12" text-anchor="middle">90</text>
<line x1="443.3" y1="501.7" x2="443.3" y2="505.2" stroke="#2b2b2b" stroke-width="1.2"/>
<text x="443.3" y="514.6" font-size="8.25" fill="#1a1a1a" stroke="#1a1a1a" stroke-width="0.1" text-anchor="middle">240</text>
<text x="443.3" y="546.6" font-size="7.5" fill="#1a1a1a" stroke="#1a1a1a" stroke-width="0.12" text-anchor="middle">83</text>
<line x1="460.65" y1="501.7" x2="460.65" y2="505.2" stroke="#2b2b2b" stroke-width="1.2"/>
<text x="460.65" y="514.6" font-size="8.25" fill="#1a1a1a" stroke="#1a1a1a" stroke-width="0.1" text-anchor="middle">270</text>
<text x="460.65" y="546.6" font-size="7.5" fill="#1a1a1a" stroke="#1a1a1a" stroke-width="0.12" text-anchor="middle">85</text>
<line x1="478" y1="501.7" x2="478" y2="505.2" stroke="#2b2b2b" stroke-width="1.2"/>
<text x="478" y="514.6" font-size="8.25" fill="#1a1a1a" stroke="#1a1a1a" stroke-width="0.1" text-anchor="middle">300</text>
<text x="478" y="546.6" font-size="7.5" fill="#1a1a1a" stroke="#1a1a1a" stroke-width="0.12" text-anchor="middle">87</text>
<line x1="495.35" y1="501.7" x2="495.35" y2="505.2" stroke="#2b2b2b" stroke-width="1.2"/>
<text x="495.35" y="514.6" font-size="8.25" fill="#1a1a1a" stroke="#1a1a1a" stroke-width="0.1" text-anchor="middle">330</text>
<text x="495.35" y="546.6" font-size="7.5" fill="#1a1a1a" stroke="#1a1a1a" stroke-width="0.12" text-anchor="middle">76</text>
<line x1="512.7" y1="501.7" x2="512.7" y2="505.2" stroke="#2b2b2b" stroke-width="1.2"/>
<text x="512.7" y="514.6" font-size="8.25" fill="#1a1a1a" stroke="#1a1a1a" stroke-width="0.1" text-anchor="middle">360</text>
<text x="512.7" y="546.6" font-size="7.5" fill="#1a1a1a" stroke="#1a1a1a" stroke-width="0.12" text-anchor="middle">80</text>
<text x="405.2" y="527.7" font-size="9.3" fill="#1a1a1a" text-anchor="middle" textLength="122.5" lengthAdjust="spacingAndGlyphs" stroke="#1a1a1a" stroke-width="0.3">Post-HCT EASIX evaluation landmark time</text>
<text x="298.9" y="535.8" font-size="7.3" fill="#1a1a1a" stroke="#1a1a1a" stroke-width="0.12">N Included</text>
<text transform="translate(282.9,404.2) rotate(-90)" x="0" y="0" font-size="9.7" fill="#1a1a1a" text-anchor="middle" textLength="166.5" lengthAdjust="spacingAndGlyphs" stroke="#1a1a1a" stroke-width="0.15">Hazard ratio (95% CI) per 1-unit increase in log2 EASIX</text>
<line x1="303.9" y1="316.8" x2="319.4" y2="316.8" stroke="rgba(170,20,60,0.7)" stroke-width="1.2"/>
<circle cx="311.9" cy="316.8" r="2.1" fill="#b4123e"/>
<text x="322.5" y="319.4" font-size="7.35" fill="#1a1a1a" stroke="#1a1a1a" stroke-width="0.1">NRM Hazard Ratio, Unadjusted</text>
<line x1="303.9" y1="328.7" x2="319.4" y2="328.7" stroke="rgba(35,50,100,0.72)" stroke-width="1.2"/>
<circle cx="311.9" cy="328.7" r="2.1" fill="#163a60"/>
<text x="322.5" y="330.8" font-size="7.35" fill="#1a1a1a" stroke="#1a1a1a" stroke-width="0.1">NRM Hazard Ratio, Adjusted</text>
<line x1="303.9" y1="387.2" x2="303.9" y2="432.3" stroke="rgba(170,20,60,0.72)" stroke-width="1.2"/><circle cx="303.9" cy="410.3" r="2.05" fill="#b4123e"/>
<line x1="321.25" y1="359.1" x2="321.25" y2="414.3" stroke="rgba(170,20,60,0.72)" stroke-width="1.2"/><circle cx="321.25" cy="391.2" r="2.05" fill="#b4123e"/>
<line x1="338.6" y1="339" x2="338.6" y2="408.3" stroke="rgba(170,20,60,0.72)" stroke-width="1.2"/><circle cx="338.6" cy="378.8" r="2.05" fill="#b4123e"/>
<line x1="355.95" y1="380.3" x2="355.95" y2="432.8" stroke="rgba(170,20,60,0.72)" stroke-width="1.2"/><circle cx="355.95" cy="408.3" r="2.05" fill="#b4123e"/>
<line x1="373.3" y1="381" x2="373.3" y2="431.7" stroke="rgba(170,20,60,0.72)" stroke-width="1.2"/><circle cx="373.3" cy="410.9" r="2.05" fill="#b4123e"/>
<line x1="390.65" y1="345.7" x2="390.65" y2="416.4" stroke="rgba(170,20,60,0.72)" stroke-width="1.2"/><circle cx="390.65" cy="386.4" r="2.05" fill="#b4123e"/>
<line x1="408" y1="364.4" x2="408" y2="421.3" stroke="rgba(170,20,60,0.72)" stroke-width="1.2"/><circle cx="408" cy="396.7" r="2.05" fill="#b4123e"/>
<line x1="425.35" y1="374.3" x2="425.35" y2="418" stroke="rgba(170,20,60,0.72)" stroke-width="1.2"/><circle cx="425.35" cy="398.9" r="2.05" fill="#b4123e"/>
<line x1="442.7" y1="357.4" x2="442.7" y2="416.4" stroke="rgba(170,20,60,0.72)" stroke-width="1.2"/><circle cx="442.7" cy="391.5" r="2.05" fill="#b4123e"/>
<line x1="460.05" y1="369.7" x2="460.05" y2="425.3" stroke="rgba(170,20,60,0.72)" stroke-width="1.2"/><circle cx="460.05" cy="401.2" r="2.05" fill="#b4123e"/>
<line x1="477.4" y1="368.1" x2="477.4" y2="426.3" stroke="rgba(170,20,60,0.72)" stroke-width="1.2"/><circle cx="477.4" cy="401.2" r="2.05" fill="#b4123e"/>
<line x1="494.75" y1="313.9" x2="494.75" y2="416.2" stroke="rgba(170,20,60,0.72)" stroke-width="1.2"/><circle cx="494.75" cy="369.7" r="2.05" fill="#b4123e"/>
<line x1="512.1" y1="313.9" x2="512.1" y2="404.2" stroke="rgba(170,20,60,0.72)" stroke-width="1.2"/><circle cx="512.1" cy="349.7" r="2.05" fill="#b4123e"/>
<line x1="305.1" y1="382.6" x2="305.1" y2="431" stroke="rgba(35,50,100,0.72)" stroke-width="1.2"/><circle cx="305.1" cy="410.3" r="2.05" fill="#163a60"/>
<line x1="322.45" y1="362" x2="322.45" y2="419.3" stroke="rgba(35,50,100,0.72)" stroke-width="1.2"/><circle cx="322.45" cy="393.8" r="2.05" fill="#163a60"/>
<line x1="339.8" y1="346" x2="339.8" y2="414.3" stroke="rgba(35,50,100,0.72)" stroke-width="1.2"/><circle cx="339.8" cy="384.2" r="2.05" fill="#163a60"/>
<line x1="357.15" y1="380.3" x2="357.15" y2="432.8" stroke="rgba(35,50,100,0.72)" stroke-width="1.2"/><circle cx="357.15" cy="408.3" r="2.05" fill="#163a60"/>
<line x1="374.5" y1="379.2" x2="374.5" y2="430" stroke="rgba(35,50,100,0.72)" stroke-width="1.2"/><circle cx="374.5" cy="409.2" r="2.05" fill="#163a60"/>
<line x1="391.85" y1="345.7" x2="391.85" y2="416.4" stroke="rgba(35,50,100,0.72)" stroke-width="1.2"/><circle cx="391.85" cy="386.4" r="2.05" fill="#163a60"/>
<line x1="409.2" y1="368.9" x2="409.2" y2="427" stroke="rgba(35,50,100,0.72)" stroke-width="1.2"/><circle cx="409.2" cy="402.1" r="2.05" fill="#163a60"/>
<line x1="426.55" y1="358.5" x2="426.55" y2="414.8" stroke="rgba(35,50,100,0.72)" stroke-width="1.2"/><circle cx="426.55" cy="389.8" r="2.05" fill="#163a60"/>
<line x1="443.9" y1="324.6" x2="443.9" y2="410.7" stroke="rgba(35,50,100,0.72)" stroke-width="1.2"/><circle cx="443.9" cy="375.4" r="2.05" fill="#163a60"/>
<line x1="461.25" y1="340.4" x2="461.25" y2="418.2" stroke="rgba(35,50,100,0.72)" stroke-width="1.2"/><circle cx="461.25" cy="385.8" r="2.05" fill="#163a60"/>
<line x1="478.6" y1="360.1" x2="478.6" y2="421.3" stroke="rgba(35,50,100,0.72)" stroke-width="1.2"/><circle cx="478.6" cy="396.2" r="2.05" fill="#163a60"/>
<line x1="495.95" y1="313.9" x2="495.95" y2="421.9" stroke="rgba(35,50,100,0.72)" stroke-width="1.2"/><circle cx="495.95" cy="372.1" r="2.05" fill="#163a60"/>
<line x1="513.3" y1="313.9" x2="513.3" y2="404" stroke="rgba(35,50,100,0.72)" stroke-width="1.2"/><circle cx="513.3" cy="333" r="2.05" fill="#163a60"/>
</svg>
</body></html>
